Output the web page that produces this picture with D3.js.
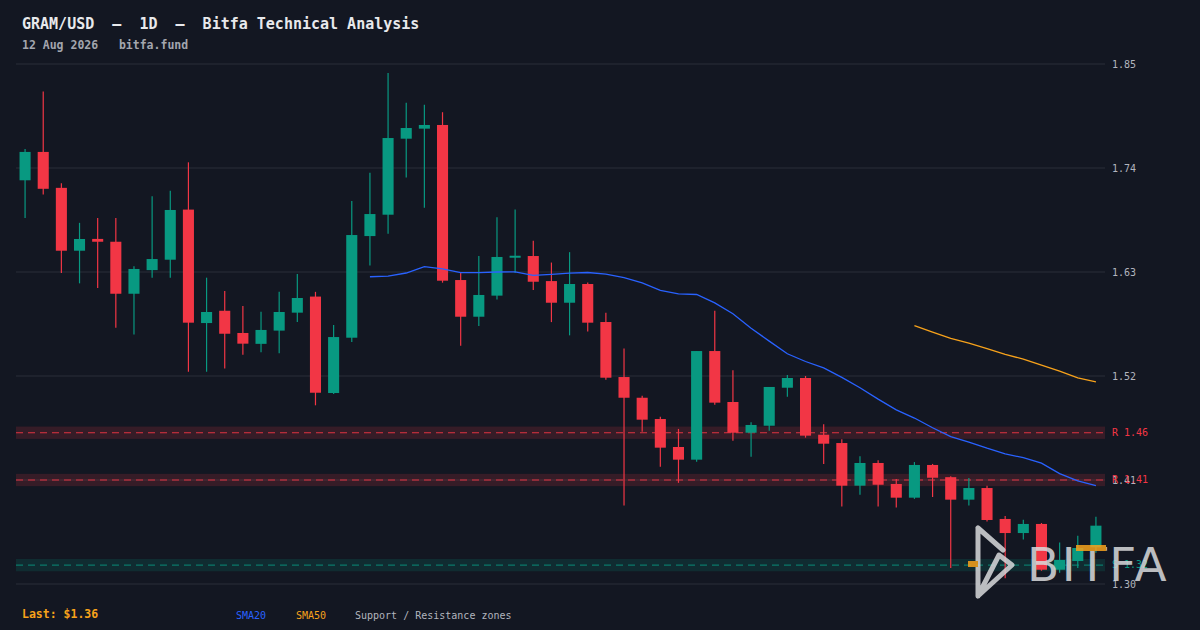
<!DOCTYPE html>
<html>
<head>
<meta charset="utf-8">
<script src="https://cdn.jsdelivr.net/npm/d3@7"></script>
<style>
    html, body { margin: 0; padding: 0; background: #131722; }
    svg { display: block; }
</style>
</head>
<body>
<script>
// daily candles (60 sessions)
const opens = [1.727, 1.757, 1.719, 1.6525, 1.665, 1.662, 1.607, 1.632, 1.643, 1.696,
    1.576, 1.589, 1.5655, 1.554, 1.568, 1.587, 1.604, 1.502, 1.5605, 1.668,
    1.6906, 1.771, 1.7816, 1.7855, 1.6215, 1.5827, 1.605, 1.6451, 1.6469, 1.6204,
    1.5975, 1.6173, 1.5771, 1.5189, 1.497, 1.4745, 1.4449, 1.4315, 1.5464, 1.4925,
    1.46, 1.4674, 1.5076, 1.5179, 1.4579, 1.4491, 1.404, 1.428, 1.4058, 1.3913,
    1.4259, 1.413, 1.3892, 1.4015, 1.3688, 1.3539, 1.3635, 1.3151, 1.3243, 1.3388];
const highs = [1.760, 1.821, 1.724, 1.682, 1.687, 1.687, 1.636, 1.710, 1.716, 1.746,
    1.624, 1.610, 1.594, 1.588, 1.609, 1.628, 1.609, 1.574, 1.705, 1.735,
    1.8405, 1.809, 1.807, 1.799, 1.630, 1.647, 1.688, 1.696, 1.663, 1.640,
    1.651, 1.619, 1.587, 1.549, 1.499, 1.477, 1.464, 1.5464, 1.589, 1.526,
    1.471, 1.5084, 1.521, 1.520, 1.469, 1.453, 1.435, 1.431, 1.411, 1.429,
    1.427, 1.414, 1.412, 1.404, 1.372, 1.368, 1.3645, 1.344, 1.351, 1.371];
const lows = [1.687, 1.712, 1.629, 1.618, 1.613, 1.571, 1.564, 1.624, 1.624, 1.5245,
    1.5245, 1.528, 1.5425, 1.545, 1.544, 1.577, 1.489, 1.501, 1.556, 1.637,
    1.6705, 1.730, 1.698, 1.6187, 1.552, 1.573, 1.601, 1.629, 1.611, 1.577,
    1.563, 1.567, 1.516, 1.383, 1.461, 1.424, 1.407, 1.4294, 1.4896, 1.4516,
    1.4346, 1.4621, 1.498, 1.4548, 1.427, 1.382, 1.3945, 1.382, 1.381, 1.390,
    1.392, 1.317, 1.383, 1.366, 1.306, 1.347, 1.314, 1.312, 1.317, 1.333];
const closes = [1.757, 1.718, 1.6525, 1.6649, 1.662, 1.607, 1.6332, 1.6437, 1.6956, 1.5764,
    1.5877, 1.5647, 1.5542, 1.5687, 1.5877, 1.6025, 1.5023, 1.5612, 1.6691, 1.6913,
    1.7717, 1.7823, 1.7855, 1.6208, 1.5827, 1.6057, 1.6459, 1.6472, 1.6197, 1.5975,
    1.6173, 1.5764, 1.5182, 1.497, 1.4738, 1.4442, 1.4315, 1.5464, 1.4918, 1.46,
    1.4682, 1.5084, 1.5179, 1.4569, 1.4484, 1.404, 1.428, 1.405, 1.3913, 1.4259,
    1.4124, 1.3892, 1.4015, 1.3677, 1.3539, 1.3635, 1.3151, 1.3254, 1.3381, 1.3617];

const priceTicks = [1.85, 1.74, 1.63, 1.52, 1.41, 1.30];
const zonePrices = [1.46, 1.41, 1.32];
const zoneTypes = ['R', 'R', 'S'];
const smaPeriods = [20, 50];

const width = 1200;
const height = 630;
const padding = { left: 16, right: 95, top: 64, bottom: 46 };
const zoneHalf = 0.0065;

const colors = {
    bg: '#131722',
    up: '#089981',
    down: '#f23645',
    grid: '#2a2e39',
    axisText: '#b2b5be',
    sma20: '#2962ff',
    sma50: '#f7a21b'
};
const mono = '"DejaVu Sans Mono", "Liberation Mono", monospace';

const candles = opens.map((o, i) => ({ i, open: o, high: highs[i], low: lows[i], close: closes[i] }));

function movingAverage(period) {
    return closes.map((c, i) => i < period - 1 ? null : { i, value: d3.mean(closes.slice(i - period + 1, i + 1)) })
        .filter(d => d);
}

const svg = d3.select('body').append('svg')
    .attr('width', width)
    .attr('height', height)
    .style('background', colors.bg);

const x = d3.scaleBand()
    .domain(candles.map(d => d.i))
    .range([padding.left, width - padding.right]);

const y = d3.scaleLinear()
    .domain([1.30, 1.85])
    .range([height - padding.bottom, padding.top]);

const cx = i => x(i) + x.bandwidth() / 2;
const bodyW = x.bandwidth() * 0.61;

// grid
svg.append('g').attr('class', 'grid')
    .selectAll('line')
    .data(priceTicks)
    .enter().append('line')
    .attr('x1', padding.left).attr('x2', width - padding.right)
    .attr('y1', d => y(d)).attr('y2', d => y(d))
    .attr('stroke', colors.grid).attr('stroke-width', 1);

// support / resistance zones
const zones = zonePrices.map((p, k) => ({ price: p, type: zoneTypes[k] }));
const zoneColor = d => d.type === 'R' ? colors.down : colors.up;
const zoneG = svg.append('g').attr('class', 'zones');
zoneG.selectAll('rect')
    .data(zones)
    .enter().append('rect')
    .attr('x', padding.left)
    .attr('width', width - padding.right - padding.left)
    .attr('y', d => y(d.price + zoneHalf))
    .attr('height', d => y(d.price - zoneHalf) - y(d.price + zoneHalf))
    .attr('fill', zoneColor)
    .attr('fill-opacity', 0.16);
zoneG.selectAll('line')
    .data(zones)
    .enter().append('line')
    .attr('x1', padding.left).attr('x2', width - padding.right)
    .attr('y1', d => y(d.price)).attr('y2', d => y(d.price))
    .attr('stroke', zoneColor)
    .attr('stroke-width', 1.2)
    .attr('stroke-dasharray', '7,5')
    .attr('opacity', d => d.type === 'R' ? 0.9 : 0.7);

// candles
const candleG = svg.append('g').attr('class', 'candles')
    .selectAll('g')
    .data(candles)
    .enter().append('g');
const candleColor = d => d.close >= d.open ? colors.up : colors.down;
candleG.append('line')
    .attr('x1', d => cx(d.i)).attr('x2', d => cx(d.i))
    .attr('y1', d => y(d.high)).attr('y2', d => y(d.low))
    .attr('stroke', candleColor).attr('stroke-width', 1.2);
candleG.append('rect')
    .attr('x', d => cx(d.i) - bodyW / 2)
    .attr('width', bodyW)
    .attr('y', d => y(Math.max(d.open, d.close)))
    .attr('height', d => Math.max(1.5, Math.abs(y(d.open) - y(d.close))))
    .attr('fill', candleColor);

// moving averages
const line = d3.line().x(d => cx(d.i)).y(d => y(d.value));
smaPeriods.forEach(period => {
    svg.append('path')
        .datum(movingAverage(period))
        .attr('fill', 'none')
        .attr('stroke', period === 20 ? colors.sma20 : colors.sma50)
        .attr('stroke-width', 1.3)
        .attr('d', line);
});

// right price axis
const axisX = width - padding.right + 7;
const axisG = svg.append('g').attr('class', 'yaxis')
    .attr('font-family', mono).attr('font-size', 10);
axisG.selectAll('text')
    .data(priceTicks)
    .enter().append('text')
    .attr('x', axisX)
    .attr('y', d => y(d) + 4)
    .attr('fill', colors.axisText)
    .text(d => d.toFixed(2));
axisG.selectAll('.zone-label')
    .data(zones)
    .enter().append('text')
    .attr('class', 'zone-label')
    .attr('x', axisX)
    .attr('y', d => y(d.price) + 3)
    .attr('fill', zoneColor)
    .text(d => `${d.type} ${d.price.toFixed(2)}`);

// watermark
const wm = svg.append('g').attr('class', 'watermark').attr('opacity', 0.85);
wm.append('path')
    .attr('d', 'M978,528 L1003,550 M999,555 L1012,565 L978,596 Z M978,528 L978,596')
    .attr('fill', 'none')
    .attr('stroke', '#d9dadc')
    .attr('stroke-width', 5)
    .attr('stroke-linejoin', 'round')
    .attr('stroke-linecap', 'round');
wm.append('text')
    .attr('x', 1027).attr('y', 581)
    .attr('font-family', '"DejaVu Sans", sans-serif')
    .attr('font-size', 47)
    .attr('letter-spacing', 2.5)
    .attr('fill', '#d9dadc')
    .text('BITFA');
wm.append('rect')
    .attr('x', 968).attr('y', 561).attr('width', 10).attr('height', 6)
    .attr('fill', colors.sma50);
wm.append('rect')
    .attr('x', 1076).attr('y', 545).attr('width', 30).attr('height', 6)
    .attr('fill', colors.sma50);

// header
svg.append('text')
    .attr('x', 22).attr('y', 29)
    .attr('font-family', mono).attr('font-size', 15).attr('font-weight', 'bold')
    .attr('fill', '#e8e9ec')
    .attr('xml:space', 'preserve')
    .text('GRAM/USD  \u2013  1D  \u2013  Bitfa Technical Analysis');
svg.append('text')
    .attr('x', 22).attr('y', 49)
    .attr('font-family', mono).attr('font-size', 11.5).attr('font-weight', 'bold')
    .attr('fill', '#a3a6ae')
    .attr('xml:space', 'preserve')
    .text('12 Aug 2026   bitfa.fund');

// footer
svg.append('text')
    .attr('x', 22).attr('y', 618)
    .attr('font-family', mono).attr('font-size', 11.5).attr('font-weight', 'bold')
    .attr('fill', colors.sma50)
    .text(`Last: $${closes[closes.length - 1].toFixed(2)}`);
const legend = [
    { label: 'SMA20', color: colors.sma20, x: 236 },
    { label: 'SMA50', color: colors.sma50, x: 296 },
    { label: 'Support / Resistance zones', color: colors.axisText, x: 355 }
];
svg.append('g').selectAll('text')
    .data(legend)
    .enter().append('text')
    .attr('x', d => d.x).attr('y', 619)
    .attr('font-family', mono).attr('font-size', 10)
    .attr('fill', d => d.color)
    .text(d => d.label);
</script>
</body>
</html>
